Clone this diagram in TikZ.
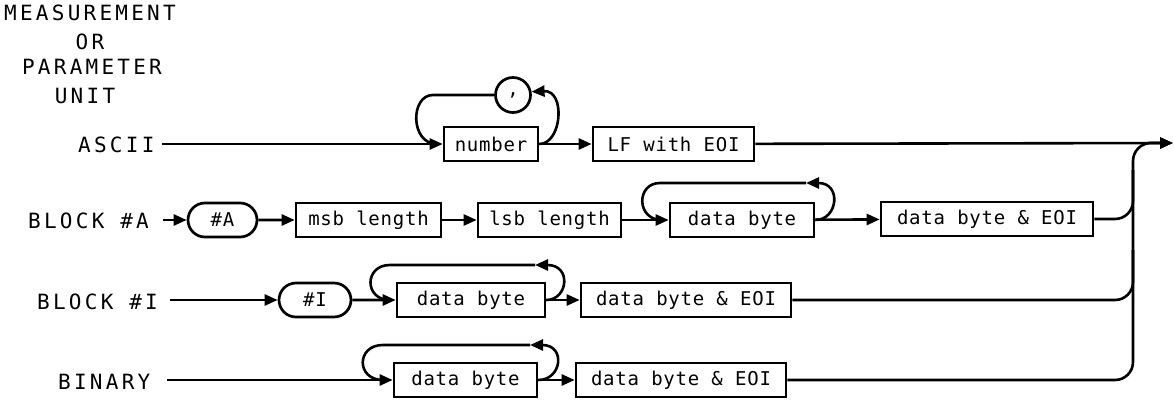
\documentclass[tikz,border=0pt]{standalone}
\usepackage{fontspec}
\usetikzlibrary{arrows.meta,shapes.misc}
\newfontfamily\lblfont[LetterSpace=15.5]{DejaVu Sans Mono}
\newfontfamily\boxfont[LetterSpace=4]{DejaVu Sans Mono}
\begin{document}
\begin{tikzpicture}[x=1pt,y=-1pt,
  lbl/.style={font={\lblfont\fontsize{21}{24}\selectfont}, inner sep=0pt},
  box/.style={draw, line width=2.7pt, font={\boxfont\fontsize{19}{22}\selectfont}, minimum height=34pt, inner sep=0pt},
  oval/.style={box, rounded rectangle},
  conn/.style={line width=2.6pt, -{Triangle[length=13pt,width=11pt]}},
  plain/.style={line width=2.6pt}
]
\fill[white] (0,0) rectangle (1174,401);
\useasboundingbox (0,0) rectangle (1174,401);

% heading
\node[lbl, anchor=base] (t1) at (90,21) {MEASUREMENT};
\node[lbl, anchor=base] (t2) at (90,50) {OR};
\node[lbl, anchor=base] (t3) at (92,75) {PARAMETER};
\node[lbl, anchor=base] (t4) at (85,103) {UNIT};

% row labels
\node[lbl, anchor=base west] (lA) at (78,152) {ASCII};
\node[lbl, anchor=base west] (lB) at (28,228) {BLOCK \#A};
\node[lbl, anchor=base west] (lC) at (37,309) {BLOCK \#I};
\node[lbl, anchor=base west] (lD) at (58,389) {BINARY};

\coordinate (sA) at (162,144);
\coordinate (sB) at (163,220);
\coordinate (sC) at (170,300);
\coordinate (sD) at (167,380);
\coordinate (out) at (1173,143);

% ASCII row
\node[box, minimum width=94pt] (num) at (491,144) {number};
\node[draw, circle, minimum size=35pt, line width=2.7pt, inner sep=0pt, font={\boxfont\fontsize{19}{22}\selectfont}] (comma) at (513,95) {,};
\node[box, minimum width=161pt] (lf) at (673.5,144) {LF with EOI};

% BLOCK #A row
\node[oval, minimum width=69pt] (hA) at (222.5,220) {\#A};
\node[box, minimum width=145pt] (msb) at (368.5,220) {msb length};
\node[box, minimum width=143pt] (lsb) at (549.5,220) {lsb length};
\node[box, minimum width=144pt] (db2) at (742,220) {data byte};
\node[box, minimum width=212pt] (de2) at (987,219) {data byte \& EOI};

% BLOCK #I row
\node[oval, minimum width=72pt] (hI) at (315,300) {\#I};
\node[box, minimum width=148pt] (db3) at (471,300) {data byte};
\node[box, minimum width=210pt] (de3) at (686,300) {data byte \& EOI};

% BINARY row
\node[box, minimum width=143pt] (db4) at (465.5,380) {data byte};
\node[box, minimum width=210pt] (de4) at (681,380) {data byte \& EOI};

% ASCII connectors
\draw[conn] (sA) -- (num);
\draw[plain] (comma.west) -- (433,95) .. controls (410,95) and (410,144) .. (437,144);
\draw[conn] (num.east) .. controls (562,144) and (566,90) .. (comma.10);
\draw[conn] (num) -- (lf);
\draw[conn] (lf) -- (out);

% BLOCK #A connectors
\draw[conn] (sB) -- (hA);
\draw[conn] (hA) -- (msb);
\draw[conn] (msb) -- (lsb);
\draw[conn] (lsb) -- (db2);
\draw[conn] (db2.east) .. controls (838,220) and (842,183) .. (806,183);
\draw[plain] (806,183) -- (660,183) .. controls (636,183) and (636,220) .. (662,220);
\draw[conn] (db2) -- (de2);
\draw[plain, rounded corners=18pt] (de2.east) -| (1133,170);

% BLOCK #I connectors
\draw[conn] (sC) -- (hI);
\draw[conn] (hI) -- (db3);
\draw[conn] (db3.east) .. controls (568,300) and (572,265) .. (535,265);
\draw[plain] (535,265) -- (390,265) .. controls (364,265) and (364,300) .. (390,300);
\draw[conn] (db3) -- (de3);
\draw[plain, rounded corners=18pt] (de3.east) -| (1133,250);

% BINARY connectors
\draw[conn] (sD) -- (db4);
\draw[conn] (db4.east) .. controls (562,380) and (566,345) .. (530,345);
\draw[plain] (530,345) -- (383,345) .. controls (356,345) and (356,380) .. (383,380);
\draw[conn] (db4) -- (de4);
\draw[conn, rounded corners=18pt] (de4.east) -| (1133,143) -- (out);
\end{tikzpicture}
\end{document}
